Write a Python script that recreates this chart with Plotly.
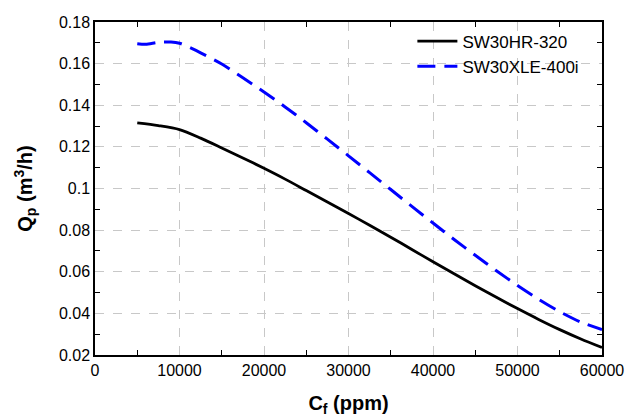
import plotly.graph_objects as go

cf_hr = [5000, 7500, 10000, 12500, 15000, 17500, 20000, 22500, 25000, 27500, 30000,
         32500, 35000, 37500, 40000, 42500, 45000, 47500, 50000, 52500, 55000, 57500, 60000]
qp_hr = [0.1315, 0.1302, 0.1283, 0.1242, 0.1195, 0.1147, 0.1097, 0.1045, 0.0990, 0.0935, 0.0880,
         0.0823, 0.0766, 0.0707, 0.0648, 0.0590, 0.0533, 0.0477, 0.0423, 0.0371, 0.0322, 0.0277, 0.0236]

cf_xle = [5000, 6000, 7500, 9000, 10000, 11500, 12500, 15000, 17500, 20000, 22500, 25000, 27500,
          30000, 32500, 35000, 37500, 40000, 42500, 45000, 47500, 50000, 52500, 55000, 57500, 60000]
qp_xle = [0.1696, 0.1693, 0.1702, 0.1704, 0.1698, 0.1672, 0.1652, 0.1598, 0.1532, 0.1464, 0.1392,
          0.1316, 0.1237, 0.1157, 0.1076, 0.0995, 0.0914, 0.0834, 0.0755, 0.0679, 0.0605, 0.0534,
          0.0468, 0.0408, 0.0358, 0.0322]

names = ["SW30HR-320", "SW30XLE-400i"]

FONT = "Arial, Liberation Sans, sans-serif"

fig = go.Figure()
fig.add_trace(go.Scatter(x=cf_hr, y=qp_hr, mode="lines", name=names[0],
                         line=dict(color="black", width=2.8, shape="spline", smoothing=0.8)))
fig.add_trace(go.Scatter(x=cf_xle, y=qp_xle, mode="lines", name=names[1],
                         line=dict(color="#0000ff", width=3, dash="18px,9px", shape="spline", smoothing=0.8)))

axis_common = dict(
    showline=True, linecolor="black", linewidth=1.5, mirror="allticks",
    ticks="", showgrid=True, gridcolor="#c8c8c8", griddash="dash", gridwidth=1,
    zeroline=False, automargin=False, tickfont=dict(family=FONT, size=16, color="black"),
)

fig.update_xaxes(range=[0, 60000], dtick=10000, tick0=0, tickformat="d",
                 minor=dict(ticks="inside", dtick=5000, tick0=0, ticklen=5, tickcolor="black",
                            tickwidth=1.2, showgrid=False),
                 title=dict(text="<b>C<sub>f</sub> (ppm)</b>", font=dict(family=FONT, size=20, color="black"),
                            standoff=19),
                 **axis_common)
fig.update_yaxes(range=[0.02, 0.18], dtick=0.02, tick0=0.02,
                 minor=dict(ticks="inside", dtick=0.01, tick0=0.02, ticklen=5, tickcolor="black",
                            tickwidth=1.2, showgrid=False),
                 tickformat="~g",
                 title=dict(text="<b>Q<sub>p</sub> (m<sup>3</sup>/h)</b>", font=dict(family=FONT, size=20, color="black"),
                            standoff=21),
                 **axis_common)

fig.update_layout(
    width=625, height=417,
    margin=dict(l=95, r=23, t=22, b=62),
    paper_bgcolor="white", plot_bgcolor="white",
    font=dict(family=FONT, color="black"),
    legend=dict(x=0.626, y=0.995, xanchor="left", yanchor="top",
                bgcolor="rgba(0,0,0,0)", borderwidth=0,
                font=dict(family=FONT, size=17, color="black"),
                tracegroupgap=0, itemwidth=40),
    showlegend=True,
)

fig.write_html("out.html", config={"displayModeBar": False},
               post_script="document.body.style.margin='0';document.body.style.overflow='hidden';")
